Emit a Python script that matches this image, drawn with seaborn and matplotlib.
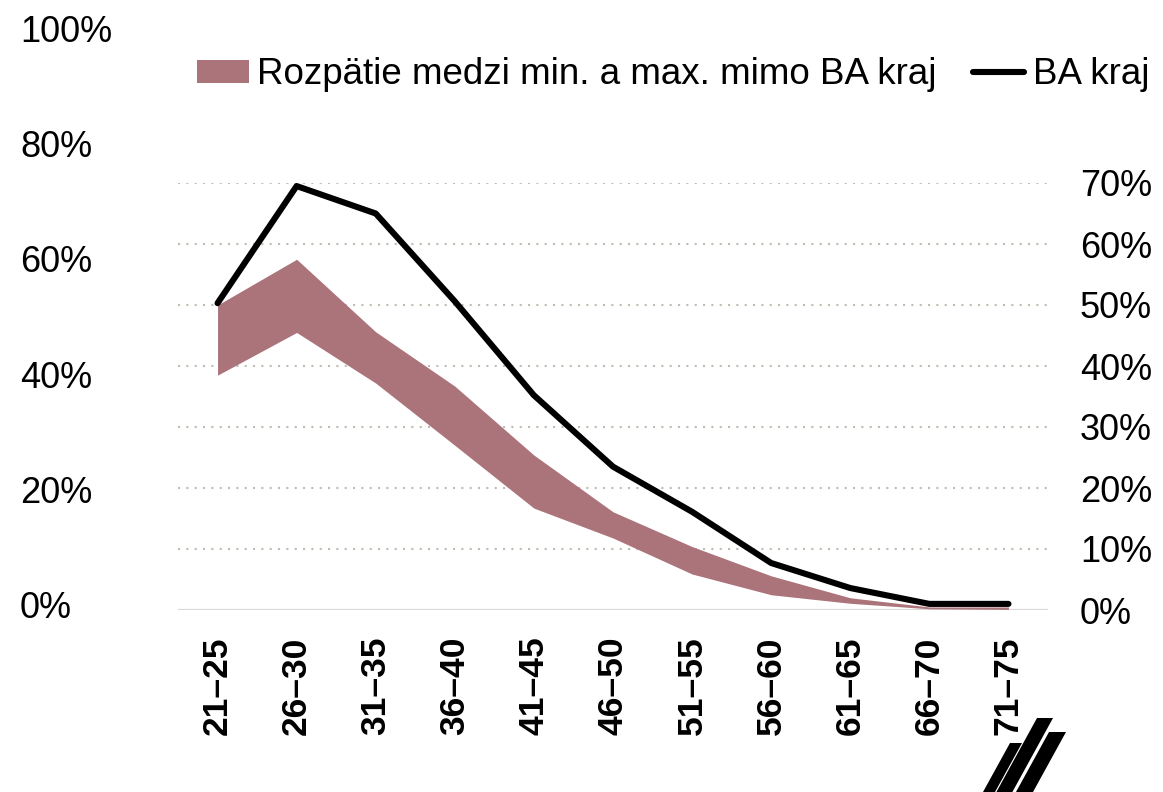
import numpy as np
import pandas as pd
import seaborn as sns
import matplotlib.pyplot as plt
from matplotlib.patches import Polygon

# age groups and shares (in %)
groups = ["21–25", "26–30", "31–35", "36–40", "41–45", "46–50",
          "51–55", "56–60", "61–65", "66–70", "71–75"]
band_low = [38.5, 45.5, 37.2, 27.0, 16.7, 11.8, 5.9, 2.5, 1.1, 0.2, 0.1]
band_high = [50.0, 57.5, 45.6, 36.7, 25.4, 16.1, 10.4, 5.6, 2.0, 0.5, 0.5]
ba_kraj = [50.3, 69.5, 65.0, 50.6, 35.2, 23.5, 16.1, 7.7, 3.6, 1.0, 1.0]
right_ticks = [0, 10, 20, 30, 40, 50, 60, 70]
left_ticks = [0, 20, 40, 60, 80, 100]

band_label = "Rozpätie medzi min. a max. mimo BA kraj"
line_label = "BA kraj"
band_col = "#ab737a"

sns.set_style("white")
plt.rcParams["font.family"] = ["Liberation Sans", "DejaVu Sans"]
plt.rcParams["text.color"] = "black"
plt.rcParams["xtick.color"] = "black"
plt.rcParams["ytick.color"] = "black"

df = pd.DataFrame({"group": groups, "low": band_low, "high": band_high, "ba": ba_kraj})

W, H = 1163, 792
fig = plt.figure(figsize=(W / 100, H / 100), dpi=100)
ax = fig.add_axes([178 / W, 1 - 610 / H, 870 / W, 427 / H])

# grid: dotted lines + solid baseline
for t in right_ticks[1:]:
    ax.axhline(t, color="#bdbdb2", lw=1.5, ls=(0, (1, 3)), zorder=0)
ax.axhline(0, color="#d9d9d9", lw=1.6, zorder=0)

x = np.arange(len(groups))
ax.fill_between(x, df["low"], df["high"], color=band_col, lw=0, label=band_label, zorder=2)
sns.lineplot(data=df, x="group", y="ba", ax=ax, color="black", lw=4.4,
             label=line_label, sort=False, zorder=3, solid_capstyle="round")

ax.set_xlim(-0.5, len(groups) - 0.5)
ax.set_ylim(0, 70)
ax.set_xlabel("")
ax.set_ylabel("")
for s in ax.spines.values():
    s.set_visible(False)

ax.set_xticks(x)
ax.set_xticklabels(groups, rotation=90, fontweight="bold", fontsize=25.5, color="black")
ax.yaxis.tick_right()
ax.set_yticks(right_ticks)
ax.set_yticklabels([f"{t}%" for t in right_ticks], fontsize=26, color="black")
ax.tick_params(axis="x", length=0, pad=19)
ax.tick_params(axis="y", length=0, pad=23)

# separate left scale 0-100 %
axl = fig.add_axes([178 / W, 1 - 605 / H, 870 / W, 577 / H], facecolor="none")
axl.set_ylim(0, 100)
axl.set_xticks([])
axl.set_yticks(left_ticks)
axl.set_yticklabels([f"{t}%" for t in left_ticks], fontsize=26, color="black")
axl.tick_params(axis="y", length=0, pad=113.8)
plt.setp(axl.get_yticklabels(), ha="left")
for s in axl.spines.values():
    s.set_visible(False)

handles, labels = ax.get_legend_handles_labels()
ax.get_legend().remove()
fig.legend(handles, labels, loc="center left", bbox_to_anchor=(197 / W, 1 - 75 / H),
           bbox_transform=fig.transFigure, ncol=2, frameon=False, fontsize=26.5,
           handlelength=1.4, handletextpad=0.22, columnspacing=1.0,
           borderpad=0, borderaxespad=0, handleheight=0.57, labelcolor="black")

# logo strokes in the bottom right corner
strokes = [
    [(1010, 743), (1022, 743), (990.6, 800), (978.6, 800)],
    [(1037, 718), (1053, 718), (1008, 800), (992, 800)],
    [(1049, 732), (1066, 732), (1028.6, 800), (1011.6, 800)],
]
for pts in strokes:
    fig.patches.append(Polygon([(px / W, 1 - py / H) for px, py in pts], closed=True,
                               color="black", lw=0, transform=fig.transFigure, clip_on=False))

fig.savefig("out.png", dpi=100)
